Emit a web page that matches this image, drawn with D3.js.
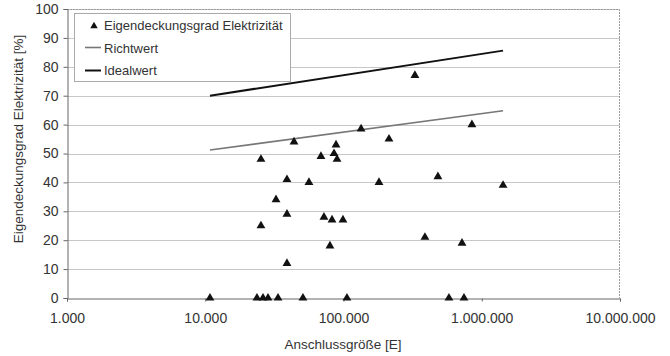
<!DOCTYPE html>
<html>
<head>
<meta charset="utf-8">
<script src="https://cdn.jsdelivr.net/npm/d3@7"></script>
<style>
  html, body { margin: 0; padding: 0; background: #fff; }
  svg { display: block; font-family: "Liberation Sans", Arial, sans-serif; }
</style>
</head>
<body>
<svg id="chart" width="670" height="356"></svg>
<script>
// ---- data ----
const anschluss = [10818, 23660, 26160, 28450, 33600, 50900, 105900, 579000, 744000,
  25290, 25290, 43850, 32500, 39000, 39000, 39000, 56240, 68700, 72200, 82600, 79800,
  88300, 85400, 89800, 99100, 180600, 134000, 213300, 328500, 849000, 481900, 1426000, 388200, 719600];
const eigendeckung = [0, 0, 0, 0, 0, 0, 0, 0, 0,
  48, 25, 54, 34, 41, 29, 12, 40, 49, 28, 27, 18,
  53, 50, 48, 27, 40, 58.5, 55, 77, 60, 42, 39, 21, 19];
const lineX = [10818, 1426000];
const richtwert = [51.2, 64.8];
const idealwert = [70, 85.6];
const xTicks = [1000, 10000, 100000, 1000000, 10000000];
const yTicks = [0, 10, 20, 30, 40, 50, 60, 70, 80, 90, 100];
const legendLabels = ["Eigendeckungsgrad Elektrizität", "Richtwert", "Idealwert"];
const xTitle = "Anschlussgröße [E]";
const yTitle = "Eigendeckungsgrad Elektrizität [%]";

// ---- layout ----
const L = 67, R = 620, T = 9, B = 298;
const svg = d3.select("#chart");
const x = d3.scaleLog().domain([1000, 10000000]).range([L, R]);
const y = d3.scaleLinear().domain([0, 100]).range([B, T]);
const de = d3.formatLocale({decimal: ",", thousands: ".", grouping: [3], currency: ["", " €"]});
const fmt = de.format(",");

// gridlines
svg.append("g").selectAll("line").data(yTicks.filter(d => d > 0)).join("line")
  .attr("x1", L).attr("x2", R)
  .attr("y1", d => Math.round(y(d)) + 0.5).attr("y2", d => Math.round(y(d)) + 0.5)
  .attr("stroke", "#c4c8c8").attr("stroke-width", 1);

// plot frame (dotted, top and right)
svg.append("path")
  .attr("d", `M${L},${T + 0.5}H${R - 0.5}V${B}`)
  .attr("fill", "none").attr("stroke", "#9a9a9a").attr("stroke-width", 1)
  .attr("stroke-dasharray", "2,1");

// y axis
const yAxis = d3.axisLeft(y).tickValues(yTicks).tickSize(4).tickPadding(5);
const gy = svg.append("g").attr("transform", `translate(${L + 0.5},0)`).call(yAxis);
gy.select(".domain").attr("stroke", "#666");
gy.selectAll(".tick line").attr("stroke", "#666");
gy.selectAll(".tick text").attr("font-size", 14).attr("fill", "#333")
  .attr("font-family", "Liberation Sans, Arial, sans-serif");

// x axis
const xAxis = d3.axisBottom(x).tickValues(xTicks).tickFormat(fmt).tickSize(3).tickPadding(12);
const gx = svg.append("g").attr("transform", `translate(0,${B + 0.5})`).call(xAxis);
gx.select(".domain").attr("stroke", "#666");
gx.selectAll(".tick line").attr("stroke", "#666");
gx.selectAll(".tick text").attr("font-size", 14).attr("fill", "#333")
  .attr("font-family", "Liberation Sans, Arial, sans-serif");

// axis titles
svg.append("text").attr("x", 343).attr("y", 349).attr("text-anchor", "middle")
  .attr("font-size", 13.5).attr("fill", "#333").text(xTitle);
svg.append("text").attr("transform", "translate(23,139) rotate(-90)")
  .attr("text-anchor", "middle").attr("font-size", 13.5).attr("fill", "#333").text(yTitle);

// lines
const lineGen = d3.line().x(d => x(d[0])).y(d => y(d[1]));
svg.append("path").datum(lineX.map((v, i) => [v, richtwert[i]]))
  .attr("d", lineGen).attr("fill", "none").attr("stroke", "#777").attr("stroke-width", 1.6);
svg.append("path").datum(lineX.map((v, i) => [v, idealwert[i]]))
  .attr("d", lineGen).attr("fill", "none").attr("stroke", "#111").attr("stroke-width", 2);

// points
const tri = d3.symbol(d3.symbolTriangle, 34);
svg.append("g").selectAll("path").data(anschluss.map((v, i) => [v, eigendeckung[i]])).join("path")
  .attr("d", tri)
  .attr("transform", d => `translate(${x(d[0])},${y(d[1])})`)
  .attr("fill", "#111");

// legend
const lg = svg.append("g");
lg.append("rect").attr("x", 74.5).attr("y", 13.5).attr("width", 216).attr("height", 68)
  .attr("fill", "#fff").attr("stroke", "#aaa").attr("stroke-width", 1);
lg.append("path").attr("d", d3.symbol(d3.symbolTriangle, 24))
  .attr("transform", "translate(94,26)").attr("fill", "#111");
lg.append("line").attr("x1", 85).attr("x2", 101).attr("y1", 47.5).attr("y2", 47.5)
  .attr("stroke", "#777").attr("stroke-width", 1.6);
lg.append("line").attr("x1", 85).attr("x2", 101).attr("y1", 70.5).attr("y2", 70.5)
  .attr("stroke", "#111").attr("stroke-width", 2);
lg.selectAll("text").data(legendLabels).join("text")
  .attr("x", 104).attr("y", (d, i) => 30 + i * 22.5)
  .attr("font-size", 13).attr("fill", "#333").text(d => d);
</script>
</body>
</html>
